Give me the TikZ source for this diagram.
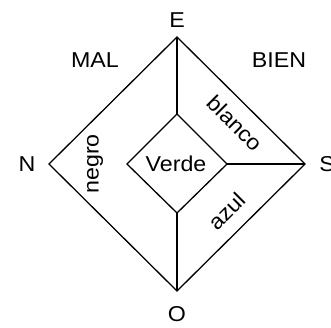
\documentclass[tikz,border=0pt]{standalone}
\usepackage{fontspec}
\setmainfont{Liberation Sans}[FakeStretch=1.08]
\usetikzlibrary{positioning, calc}

\begin{document}
\begin{tikzpicture}[x=1pt, y=-1pt, font=\fontsize{21.5}{24}\selectfont,
    edge/.style={line width=1.3pt, line join=miter},
    lbl/.style={inner sep=0pt}]
  \useasboundingbox (0,0) rectangle (331,327);
  % outer corners
  \coordinate (e) at (177,37);
  \coordinate (n) at (49,164);
  \coordinate (s) at (305,164);
  \coordinate (o) at (177,291);
  % inner corners
  \coordinate (ie) at (177,114);
  \coordinate (in) at (127,164);
  \coordinate (is) at (227,164);
  \coordinate (io) at (177,213);

  \draw[edge] (e) -- (s) -- (o) -- (n) -- cycle;
  \draw[edge] (ie) -- (is) -- (io) -- (in) -- cycle;
  \draw[edge] (e) -- (ie);
  \draw[edge] (s) -- (is);
  \draw[edge] (o) -- (io);

  \node[lbl] (lE) at (177,20) {E};
  \node[lbl] (lN) at (27,164) {N};
  \node[lbl] (lS) at (327,164) {S};
  \node[lbl] (lO) at (177,314) {O};
  \node[lbl] (mal) at (95,60) {MAL};
  \node[lbl] (bien) at (279,60) {BIEN};
  \node[lbl] (verde) at (176,164) {Verde};
  \node[lbl, rotate=90] (negro) at (95,164) {negro};
  \node[lbl, rotate=-45] (blanco) at (235,123) {blanco};
  \node[lbl, rotate=45] (azul) at (227,211) {azul};
\end{tikzpicture}
\end{document}
